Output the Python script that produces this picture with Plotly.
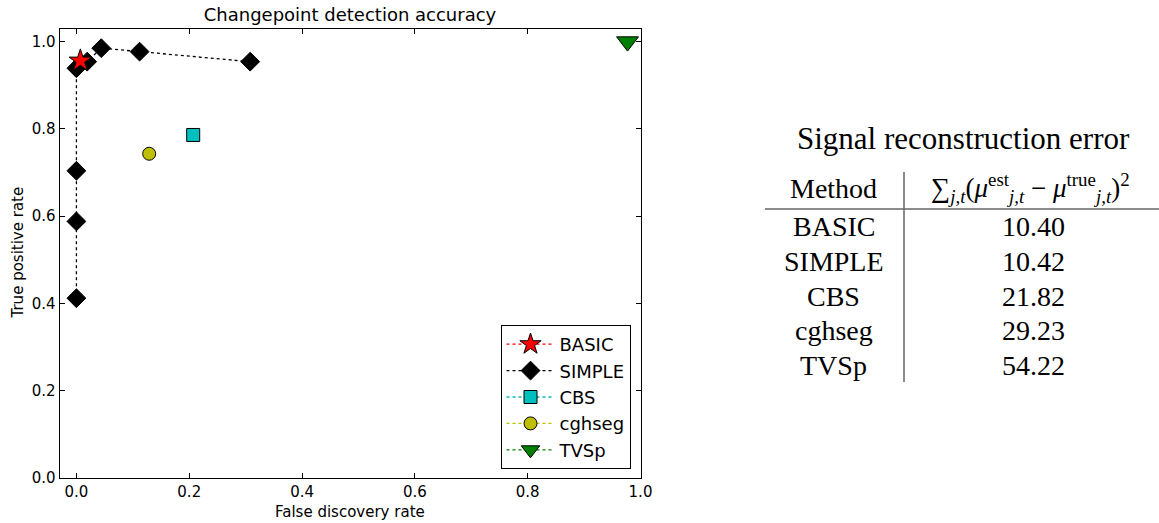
import plotly.graph_objects as go

# Canvas size in pixels (used to place table and labels in paper coordinates)
W, H = 1159, 523

# ---- Changepoint detection results (false discovery rate vs true positive rate) ----
methods = ["BASIC", "SIMPLE", "CBS", "cghseg", "TVSp"]

basic_fdr = [0.007]
basic_tpr = [0.956]

simple_fdr = [0.0, 0.0, 0.0, 0.0, 0.019, 0.044, 0.112, 0.308]
simple_tpr = [0.412, 0.588, 0.704, 0.939, 0.954, 0.985, 0.977, 0.954]

cbs_fdr = [0.207]
cbs_tpr = [0.786]

cghseg_fdr = [0.129]
cghseg_tpr = [0.743]

tvsp_fdr = [0.977]
tvsp_tpr = [1.0]

x_ticks = [0.0, 0.2, 0.4, 0.6, 0.8, 1.0]
y_ticks = [0.0, 0.2, 0.4, 0.6, 0.8, 1.0]

# ---- Signal reconstruction error table ----
table_methods = ["BASIC", "SIMPLE", "CBS", "cghseg", "TVSp"]
table_errors = [10.40, 10.42, 21.82, 29.23, 54.22]


def px_x(x):
    return x / W


def px_y(y):
    return 1 - y / H


SANS = "DejaVu Sans"
SERIF = "Liberation Serif"

series = [
    # name, x, y, color, symbol, size, legend rank
    ("SIMPLE", simple_fdr, simple_tpr, "#000000", "diamond", 14.5, 2),
    ("CBS", cbs_fdr, cbs_tpr, "#00BFBF", "square", 13, 3),
    ("cghseg", cghseg_fdr, cghseg_tpr, "#BFBF00", "circle", 13, 4),
    ("TVSp", tvsp_fdr, tvsp_tpr, "#008000", "triangle-down", 19, 5),
    ("BASIC", basic_fdr, basic_tpr, "#FF0000", "star", 17, 1),
]

fig = go.Figure()
for name, xs, ys, color, symbol, size, rank in series:
    fig.add_trace(go.Scatter(
        x=xs, y=ys, name=name, mode="lines+markers",
        legendrank=rank,
        line=dict(color=color, width=1.3, dash="dot"),
        marker=dict(symbol=symbol, size=size, color=color,
                    line=dict(color="#000000", width=1)),
        hoverinfo="x+y+name",
    ))

axis_common = dict(
    showgrid=False, zeroline=False,
    showline=True, linecolor="#000000", linewidth=1, mirror="allticks",
    ticks="inside", ticklen=5, tickwidth=1, tickcolor="#000000",
    tickfont=dict(family=SANS, size=15, color="#000000"),
    tickformat=".1f",
)

fig.update_layout(
    autosize=True,
    margin=dict(l=0, r=0, t=0, b=0, autoexpand=False),
    paper_bgcolor="white", plot_bgcolor="white",
    font=dict(family=SANS, size=15, color="#000000"),
    xaxis=dict(domain=[px_x(59.5), px_x(640.5)], range=[-0.03, 1.0],
               tickvals=x_ticks, **axis_common),
    yaxis=dict(domain=[px_y(478), px_y(28.5)], range=[0.0, 1.03],
               tickvals=y_ticks, **axis_common),
    title=dict(text="Changepoint detection accuracy",
               font=dict(family=SANS, size=18, color="#000000"),
               x=px_x(350), xanchor="center", xref="paper",
               y=px_y(15), yanchor="middle", yref="paper"),
    legend=dict(
        x=px_x(630.5), xanchor="right", y=px_y(469), yanchor="bottom",
        bgcolor="white", bordercolor="#000000", borderwidth=1,
        font=dict(family=SANS, size=18, color="#000000"),
        itemwidth=48, itemsizing="trace",
    ),
    showlegend=True,
)

annotations = [
    dict(text="False discovery rate", x=px_x(350), y=px_y(512),
         xanchor="center", yanchor="middle",
         font=dict(family=SANS, size=15, color="#000000")),
    dict(text="True positive rate", x=px_x(17.5), y=px_y(253),
         xanchor="center", yanchor="middle", textangle=-90,
         font=dict(family=SANS, size=15, color="#000000")),
    # table
    dict(text="Signal reconstruction error", x=px_x(963), y=px_y(138),
         xanchor="center", yanchor="middle",
         font=dict(family=SERIF, size=31, color="#000000")),
    dict(text="Method", x=px_x(833.5), y=px_y(188),
         xanchor="center", yanchor="middle",
         font=dict(family=SERIF, size=28, color="#000000")),
    dict(text=("∑<sub><i>j,t</i></sub>(<i>μ</i><sup>est</sup><sub><i>j,t</i></sub>"
               " − <i>μ</i><sup>true</sup><sub><i>j,t</i></sub>)<sup>2</sup>"),
         x=px_x(1030), y=px_y(188),
         xanchor="center", yanchor="middle",
         font=dict(family=SERIF, size=27, color="#000000")),
]

row_top, row_step = 227, 34.6
for i, (m, e) in enumerate(zip(table_methods, table_errors)):
    yc = px_y(row_top + i * row_step)
    annotations.append(dict(text=m, x=px_x(833.5), y=yc,
                            xanchor="center", yanchor="middle",
                            font=dict(family=SERIF, size=28, color="#000000")))
    annotations.append(dict(text=f"{e:.2f}", x=px_x(1033), y=yc,
                            xanchor="center", yanchor="middle",
                            font=dict(family=SERIF, size=28, color="#000000")))

for a in annotations:
    a.update(xref="paper", yref="paper", showarrow=False)
fig.update_layout(annotations=annotations)

# table rules
fig.add_shape(type="line", xref="paper", yref="paper",
              x0=px_x(765), x1=px_x(1159), y0=px_y(209), y1=px_y(209),
              line=dict(color="#666666", width=1.5))
fig.add_shape(type="line", xref="paper", yref="paper",
              x0=px_x(904), x1=px_x(904), y0=px_y(172), y1=px_y(382),
              line=dict(color="#666666", width=1.5))

fig.write_html("out.html", config={"displayModeBar": False},
               default_width="100vw", default_height="100vh")
